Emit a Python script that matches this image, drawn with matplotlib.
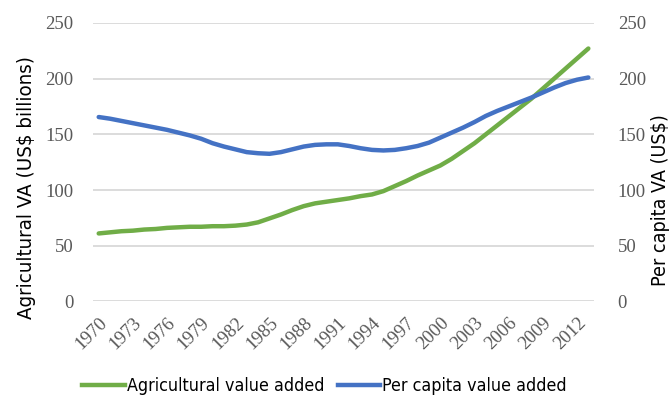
import matplotlib
matplotlib.use("Agg")
import matplotlib.pyplot as plt
from matplotlib.lines import Line2D
from matplotlib import font_manager as fm

years = list(range(1970, 2014))
agri_va = [61, 62, 63, 63.5, 64.5, 65, 66, 66.5, 67, 67,
           67.5, 67.5, 68, 69, 71, 74.5, 78, 82, 85.5, 88,
           89.5, 91, 92.5, 94.5, 96, 99, 103.5, 108, 113, 117.5,
           122, 128, 135, 142, 150, 158, 166, 174, 182, 191,
           200, 209, 218, 227]
per_capita = [165.5, 164, 162, 160, 158, 156, 154, 151.5, 149, 146,
              142, 139, 136.5, 134, 133, 132.5, 134, 136.5, 139, 140.5,
              141, 141, 139.5, 137.5, 136, 135.5, 136, 137.5, 139.5, 142.5,
              147, 151.5, 156, 161, 166.5, 171, 175, 179, 183, 187.5,
              192, 196, 199, 201]
tick_years = list(range(1970, 2013, 3))
yticks = [0, 50, 100, 150, 200, 250]

GREEN = "#70AD47"
BLUE = "#4472C4"
TICK_C = "#595959"
serif = ["Liberation Serif", "DejaVu Serif"]

# look for a narrow / condensed sans face
cond = [f for f in fm.fontManager.ttflist
        if ("narrow" in f.name.lower() or "condensed" in f.name.lower()
            or f.stretch in ("condensed", "semi-condensed", 'extra-condensed', 600, 700, 500))
        and "sans" in f.name.lower() and f.style == "normal"
        and f.weight in (400, "normal", "regular")]
if cond:
    narrow_prop = dict(fname=cond[0].fname)
    scale = 1.0
else:
    narrow_prop = dict(family=["Roboto", "DejaVu Sans"])
    scale = 0.9

def nprop(size):
    return fm.FontProperties(size=size * scale, **narrow_prop)

fig = plt.figure(figsize=(6.72, 3.99), dpi=100)
ax = fig.add_axes([0.1384, 0.2446, 0.7456, 0.698])
ax2 = ax.twinx()

x = list(range(len(years)))
ax.plot(x, agri_va, color=GREEN, lw=3.2, solid_capstyle="round", zorder=3)
ax2.plot(x, per_capita, color=BLUE, lw=3.2, solid_capstyle="round", zorder=3)

for a in (ax, ax2):
    a.set_ylim(0, 250)
    a.set_yticks(yticks)
    a.set_xlim(-0.5, len(years) - 0.5)
    for s in a.spines.values():
        s.set_visible(False)
    a.tick_params(axis="y", length=0, colors=TICK_C, labelsize=13.5)
    for lab in a.get_yticklabels():
        lab.set_fontfamily(serif)

ax.yaxis.grid(True, color="#D9D9D9", lw=1.3)
ax.set_axisbelow(True)
ax.tick_params(axis="y", pad=14)
ax2.tick_params(axis="y", pad=17)

ax.set_xticks([years.index(t) for t in tick_years])
ax.set_xticklabels([str(t) for t in tick_years], rotation=45, ha="right",
                   rotation_mode="anchor", fontfamily=serif, fontsize=13.5,
                   color=TICK_C)
ax.tick_params(axis="x", length=0, pad=9)

fig.text(0.040, 0.531, "Agricultural VA (US$ billions)", rotation=90,
         ha="center", va="center", fontproperties=nprop(14.7), color="#000000")
fig.text(0.983, 0.499, "Per capita VA (US$)", rotation=90,
         ha="center", va="center", fontproperties=nprop(14.1), color="#000000")

handles = [Line2D([], [], color=GREEN, lw=3.2),
           Line2D([], [], color=BLUE, lw=3.2)]
fig.legend(handles, ["Agricultural value added", "Per capita value added"],
           loc="center", bbox_to_anchor=(0.483, 0.033), ncol=2, frameon=False,
           prop=nprop(12.8), handlelength=2.4,
           handletextpad=0.12, columnspacing=0.75)

fig.savefig("out.png", dpi=100)
